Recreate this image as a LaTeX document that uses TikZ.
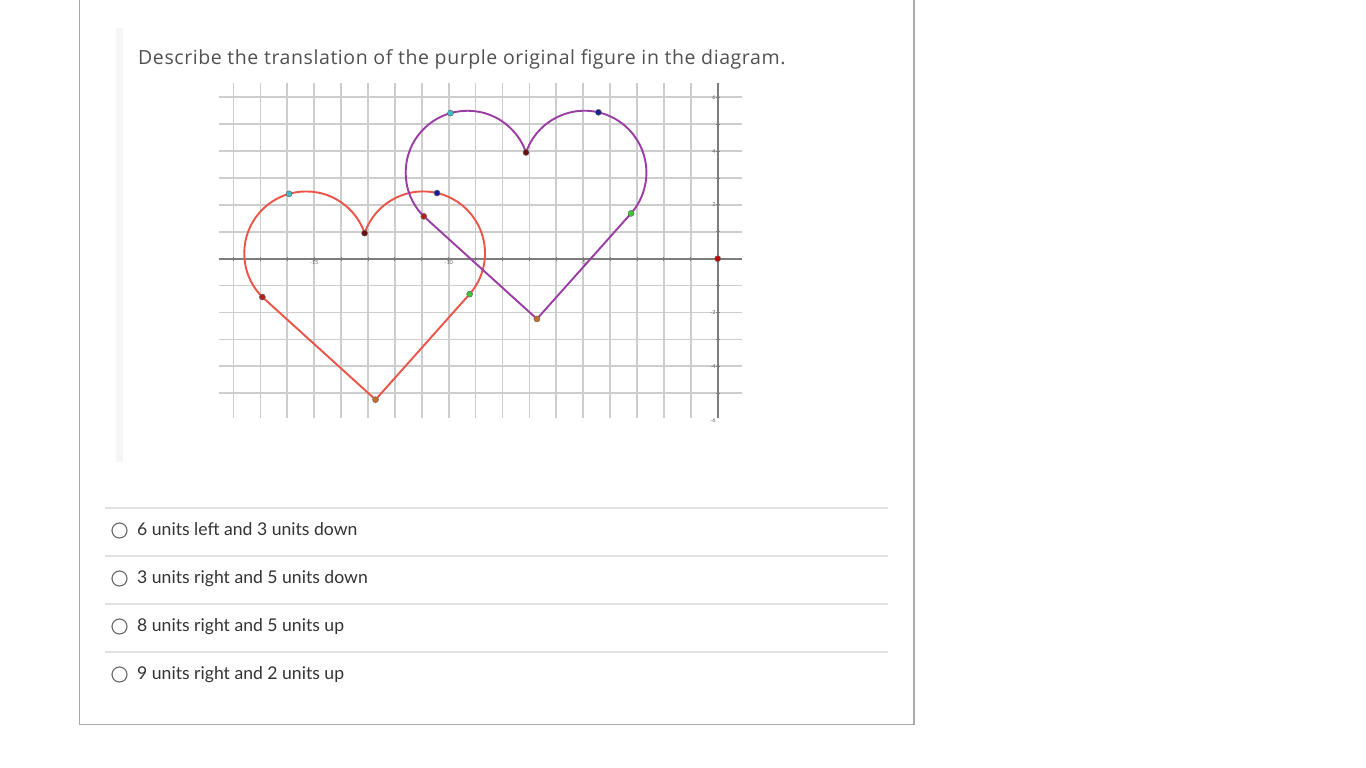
\documentclass[tikz,border=0pt]{standalone}
\usepackage{fontspec}
\setmainfont{Lato}
\newfontfamily\questionfont[LetterSpace=3]{Open Sans}
\usepackage{tikz}

\definecolor{cardgray}{RGB}{170,170,170}
\definecolor{rulegray}{RGB}{225,225,225}
\definecolor{bargray}{RGB}{246,246,246}
\definecolor{textgray}{RGB}{80,80,80}
\definecolor{gridgray}{RGB}{205,205,205}
\definecolor{axisgray}{RGB}{125,125,125}
\definecolor{heartpurple}{RGB}{153,61,163}
\definecolor{heartred}{RGB}{236,84,72}
\definecolor{ptcyan}{RGB}{60,190,205}
\definecolor{ptcusp}{RGB}{110,10,10}
\definecolor{ptblue}{RGB}{20,30,160}
\definecolor{ptgreen}{RGB}{60,200,50}
\definecolor{ptorange}{RGB}{200,110,40}
\definecolor{ptred}{RGB}{180,30,30}

\tikzset{
  gridline/.style={draw=gridgray, line width=1.7pt},
  axisline/.style={draw=axisgray, line width=1.7pt},
  heartline/.style={line width=1.9pt, line join=round},
  dot/.style={circle, inner sep=0pt, minimum size=6pt, draw=black!60, line width=0.5pt},
  ticklabel/.style={font=\fontsize{5.5}{5.5}\selectfont, text=black!60, inner sep=2pt},
  answer/.style={anchor=base west, font=\fontsize{17.6}{20}\selectfont, text=black!80, inner sep=0pt},
  radio/.style={circle, draw=black!60, line width=1.1pt, minimum size=15pt, inner sep=0pt},
}

\begin{document}
\begin{tikzpicture}[x=1pt, y=-1pt]
  \useasboundingbox (0,0) rectangle (1366,768);
  \fill[white] (0,0) rectangle (1366,768);
  % Rahmen der Aufgabe
  \draw[cardgray, line width=1.2pt] (79.5,0) -- (79.5,724.5) -- (914,724.5) -- (914,0);
  \fill[bargray] (116,28) rectangle (123,462);
  \node[anchor=base west, font=\questionfont\fontsize{19.5}{22}\selectfont, text=textgray, inner sep=0pt]
    (question) at (138,65) {Describe the translation of the purple original figure in the diagram.};

  % Koordinatensystem (eine Einheit = 26.9 px)
  \begin{scope}[xshift=717.7pt, yshift=-258.7pt, x=26.9pt, y=26.9pt]
    \foreach \gx in {-18,...,-1}
      \draw[gridline] (\gx,-5.93) -- (\gx,6.53);
    \foreach \gy in {-5,...,-1,1,2,...,6}
      \draw[gridline] (-18.55,\gy) -- (0.9,\gy);
    \draw[axisline] (-18.55,0) -- (0.9,0);
    \draw[axisline] (0,-5.93) -- (0,6.53);
    \foreach \gx in {-18,...,-1}
      \draw[axisgray, line width=1pt] (\gx,-0.08) -- (\gx,0.08);
    \foreach \gy in {-5,...,-1,1,2,...,6}
      \draw[axisgray, line width=1pt] (-0.08,\gy) -- (0.08,\gy);
    \foreach \gy in {6,4,2,-2,-4,-6}
      \node[ticklabel, left] at (0,\gy) {\gy};
    \foreach \gx in {-15,-10,-5}
      \node[ticklabel, below] at (\gx,0) {\gx};

    % Herzen: violett = Original, rot = Bild
    \foreach \n/\c/\dx/\dy in {r/heartred/-6/-3, p/heartpurple/0/0} {
      \begin{scope}[shift={(\dx,\dy)}]
        \coordinate (\n B) at (-6.72,-2.24);
        \coordinate (\n L) at ([shift={(225:2.3)}]-9.3,3.2);
        \draw[heartline, \c] (\n B) -- (\n L)
          arc[start angle=225, end angle=19, radius=2.3]
          arc[start angle=161, end angle=-41.3, radius=2.3] -- cycle;
      \end{scope}
    }
    \foreach \n/\dx/\dy in {r/-6/-3, p/0/0} {
      \begin{scope}[shift={(\dx,\dy)}]
        \node[dot, fill=ptcyan] (\n-cyan) at ([shift={(106:2.3)}]-9.3,3.2) {};
        \node[dot, fill=ptcusp] (\n-cusp) at ([shift={(19:2.3)}]-9.3,3.2) {};
        \node[dot, fill=ptblue] (\n-blue) at ([shift={(77:2.3)}]-4.95,3.2) {};
        \node[dot, fill=ptgreen] (\n-green) at ([shift={(-41.3:2.3)}]-4.95,3.2) {};
        \node[dot, fill=ptorange] (\n-bottom) at (\n B) {};
        \node[dot, fill=ptred] (\n-red) at (\n L) {};
      \end{scope}
    }
    \node[dot, fill=red!80!black] (origin) at (0,0) {};
  \end{scope}

  % Antworten
  \foreach \i/\txt in {1/6 units left and 3 units down, 2/3 units right and 5 units down,
                      3/8 units right and 5 units up, 4/9 units right and 2 units up} {
    \draw[rulegray, line width=1.3pt] (105,460+48*\i) -- (888,460+48*\i);
    \node[radio] (radio\i) at (119.5,482.5+48*\i) {};
    \node[answer] (opt\i) at (137,487+48*\i) {\txt};
  }
\end{tikzpicture}
\end{document}
